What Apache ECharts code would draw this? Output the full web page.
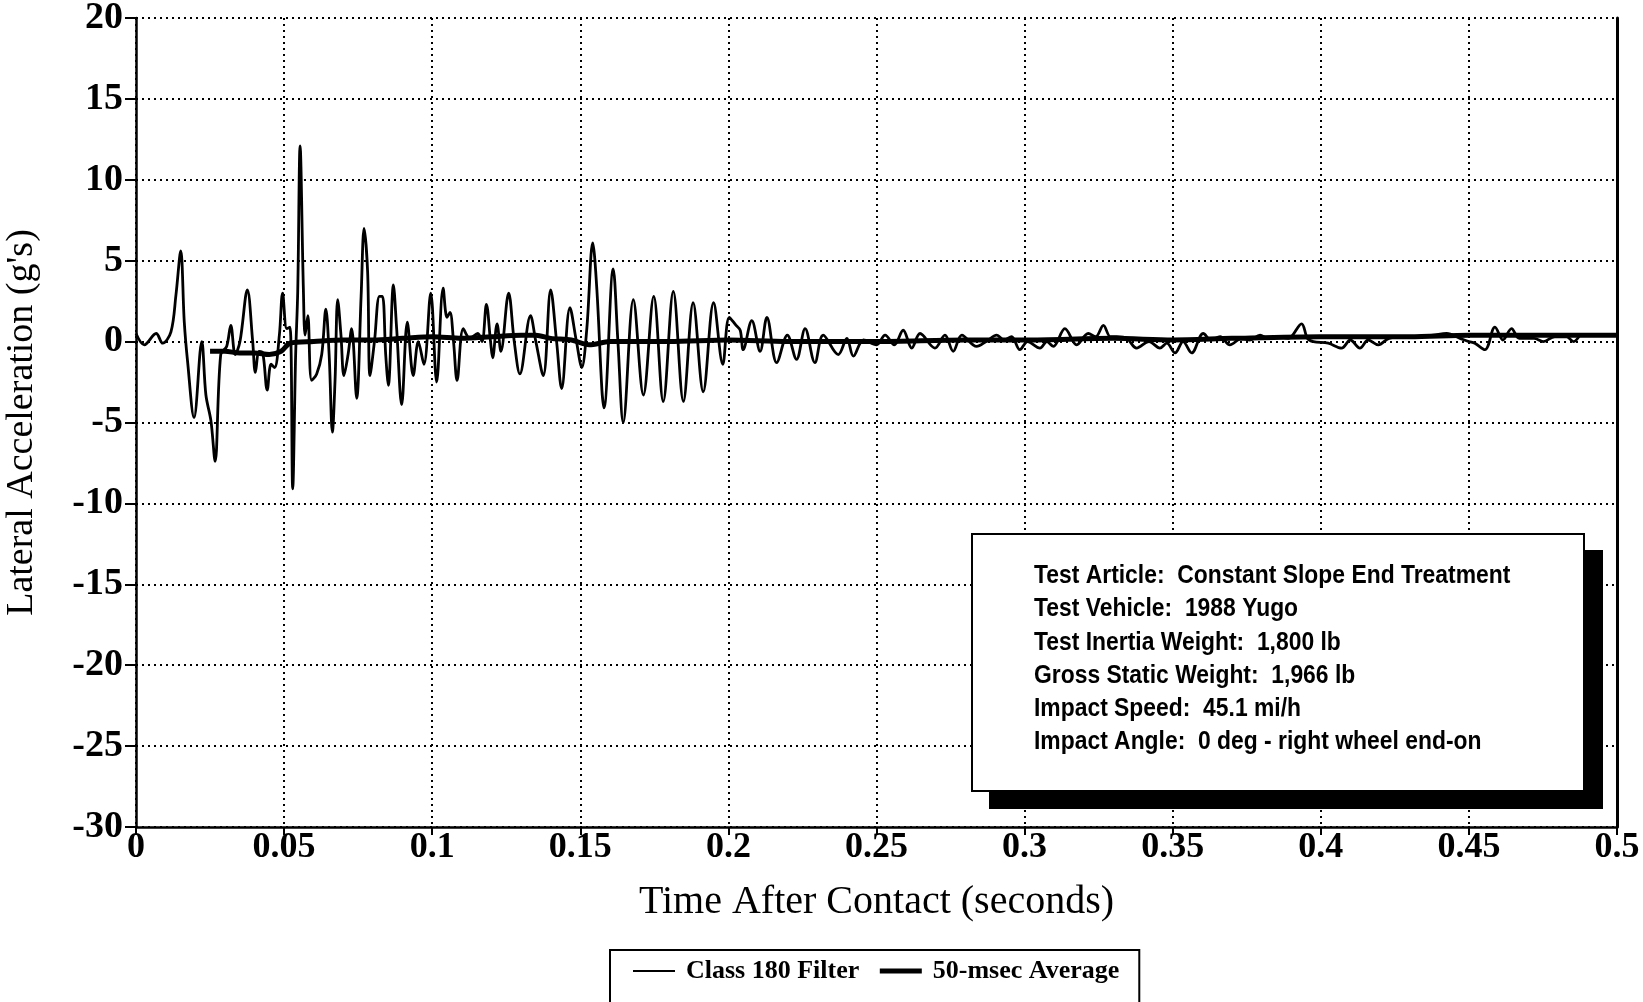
<!DOCTYPE html>
<html>
<head>
<meta charset="utf-8">
<script src="https://cdn.jsdelivr.net/npm/echarts@6/dist/echarts.min.js"></script>
<style>
  html, body { margin: 0; padding: 0; background: #fff; }
  #chart { width: 1643px; height: 1002px; }
</style>
</head>
<body>
<div id="chart"></div>
<script>
// Lateral acceleration, Class 180 filtered trace: [time (s), acceleration (g)]
const filteredSeries = [
  [0.000, 0.5], [0.0028, -0.2], [0.0068, 0.5], [0.0090, -0.1], [0.0118, 0.6],
  [0.0135, 2.9], [0.0151, 5.6], [0.0163, 1.2], [0.0174, -1.2], [0.0196, -4.7],
  [0.0222, 0.0], [0.0236, -3.3], [0.0253, -4.9], [0.0267, -7.4], [0.0286, -0.8],
  [0.0306, -0.3], [0.0320, 1.0], [0.0335, -0.8], [0.0351, 0.0], [0.0376, 3.2],
  [0.0394, 0.0], [0.0403, -1.9], [0.0416, -0.6], [0.0428, -0.7], [0.0443, -3.0],
  [0.0456, -1.4], [0.0468, -1.6], [0.0484, 0.4], [0.0495, 3.0], [0.0509, 0.8],
  [0.0520, 0.9], [0.0529, -9.1], [0.0539, -0.8], [0.0546, 3.1], [0.0554, 12.1],
  [0.0565, 3.3], [0.0571, 0.4], [0.0580, 1.6], [0.0593, -2.4], [0.0610, -2.0],
  [0.0627, -0.8], [0.0641, 2.0], [0.0652, -0.8], [0.0663, -5.6], [0.0672, -2.4],
  [0.0681, 2.6], [0.0692, 0.4], [0.0702, -2.1], [0.0716, -0.8], [0.0728, 0.8],
  [0.0745, -3.5], [0.0760, 2.8], [0.0770, 7.0], [0.0782, 4.3], [0.0790, -2.1],
  [0.0805, 0.0], [0.0822, 2.8], [0.0832, 2.8], [0.0843, -0.8], [0.0852, -2.7],
  [0.0869, 3.5], [0.0880, 0.8], [0.0897, -3.9], [0.0916, 1.2], [0.0936, -2.1],
  [0.0953, 0.0], [0.0972, -1.4], [0.0995, 3.0], [0.1015, -2.5], [0.1037, 3.3],
  [0.1050, 1.5], [0.1060, 1.8], [0.1072, 0.0], [0.1084, -2.4], [0.1105, 0.8],
  [0.1127, 0.2], [0.1154, 0.5], [0.1168, 0.0], [0.1183, 2.3], [0.1197, 0.0],
  [0.1204, -1.0], [0.1219, 1.1], [0.1232, -0.6], [0.1258, 3.0], [0.1277, 0.0],
  [0.1296, -2.0], [0.1332, 1.6], [0.1350, 0.0], [0.1375, -2.1], [0.1400, 3.2],
  [0.1420, 0.0], [0.1437, -2.9], [0.1465, 2.1], [0.1487, 0.0], [0.1505, -1.6],
  [0.1522, 0.8], [0.1542, 6.1], [0.1556, 3.2], [0.1573, -3.0], [0.1580, -4.1],
  [0.1611, 4.5], [0.1627, 0.0], [0.1645, -5.0], [0.1679, 2.6], [0.1713, -3.3],
  [0.1748, 2.8], [0.1780, -3.7], [0.1814, 3.1], [0.1848, -3.7], [0.1881, 2.4],
  [0.1915, -3.1], [0.1950, 2.4], [0.1981, -1.4], [0.2003, 1.5], [0.2026, 1.0],
  [0.2040, 0.7], [0.2050, -0.5], [0.2079, 1.3], [0.2107, -0.6], [0.2130, 1.5],
  [0.2163, -1.3], [0.2199, 0.4], [0.2230, -1.1], [0.2259, 0.8], [0.2292, -1.3],
  [0.2320, 0.4], [0.2371, -0.8], [0.2400, 0.2], [0.2422, -0.9], [0.2456, 0.1],
  [0.2500, -0.2], [0.2529, 0.4], [0.2560, -0.2], [0.2590, 0.7], [0.2619, -0.4],
  [0.2647, 0.5], [0.2697, -0.4], [0.2731, 0.4], [0.2759, -0.6], [0.2788, 0.4],
  [0.2838, -0.3], [0.2870, 0.0], [0.2906, 0.4], [0.2930, 0.1], [0.2956, 0.3],
  [0.2984, -0.5], [0.3010, 0.0], [0.3052, -0.4], [0.3075, 0.0], [0.3097, -0.3],
  [0.3136, 0.8], [0.3176, -0.2], [0.3215, 0.5], [0.3240, 0.3], [0.3266, 1.0],
  [0.3290, 0.3], [0.3311, 0.3], [0.3345, 0.2], [0.3378, -0.4], [0.3420, 0.0],
  [0.3457, -0.4], [0.3480, -0.1], [0.3508, -0.7], [0.3535, 0.0], [0.3564, -0.7],
  [0.3603, 0.5], [0.3630, 0.1], [0.3660, 0.3], [0.3693, -0.2], [0.3733, 0.2],
  [0.3760, 0.1], [0.3795, 0.4], [0.3820, 0.2], [0.3851, 0.3], [0.3890, 0.2],
  [0.3935, 1.1], [0.3955, 0.2], [0.3975, 0.0], [0.4025, -0.1], [0.4070, -0.4],
  [0.4100, 0.1], [0.4132, -0.4], [0.4160, 0.1], [0.4194, -0.2], [0.4230, 0.2],
  [0.4279, 0.3], [0.4320, 0.3], [0.4380, 0.4], [0.4425, 0.5], [0.4470, 0.2],
  [0.4500, 0.0], [0.4520, -0.1], [0.4554, -0.5], [0.4588, 0.9], [0.4615, 0.1],
  [0.4644, 0.8], [0.4670, 0.2], [0.4720, 0.2], [0.4751, 0.0], [0.4790, 0.3],
  [0.4830, 0.3], [0.4853, 0.0], [0.4875, 0.4]
];

// 50-msec running average: [time (s), acceleration (g)]
const averageSeries = [
  [0.025, -0.6], [0.030, -0.6], [0.035, -0.7], [0.040, -0.7], [0.045, -0.8],
  [0.049, -0.6], [0.052, -0.1], [0.060, 0.0], [0.070, 0.1], [0.080, 0.1],
  [0.090, 0.2], [0.100, 0.3], [0.110, 0.2], [0.120, 0.3], [0.130, 0.4],
  [0.135, 0.4], [0.140, 0.2], [0.147, 0.1], [0.153, -0.2], [0.160, 0.0],
  [0.180, 0.0], [0.200, 0.1], [0.220, 0.0], [0.250, 0.0], [0.280, 0.1],
  [0.300, 0.1], [0.330, 0.2], [0.350, 0.1], [0.370, 0.2], [0.400, 0.3],
  [0.430, 0.3], [0.450, 0.4], [0.470, 0.4], [0.500, 0.4]
];

const xTickLabels = ['0', '0.05', '0.1', '0.15', '0.2', '0.25', '0.3', '0.35', '0.4', '0.45', '0.5'];
const yTickLabels = ['-30', '-25', '-20', '-15', '-10', '-5', '0', '5', '10', '15', '20'];

const seriesNames = ['Class 180 Filter', '50-msec Average'];

const testInfo = [
  'Test Article:  Constant Slope End Treatment',
  'Test Vehicle:  1988 Yugo',
  'Test Inertia Weight:  1,800 lb',
  'Gross Static Weight:  1,966 lb',
  'Impact Speed:  45.1 mi/h',
  'Impact Angle:  0 deg - right wheel end-on'
];

const serif = '"Liberation Serif", "Times New Roman", serif';
const infoFont = '"Liberation Sans", Arial, sans-serif';

const chart = echarts.init(document.getElementById('chart'), null, { renderer: 'canvas' });

// panel text is set in a narrowed bold sans
const infoLines = testInfo.map((line, i) => ({
  type: 'text',
  x: 1034,
  y: 576 + i * 33.2,
  scaleX: 0.88,
  style: {
    text: line,
    fill: '#000',
    font: 'bold 26px ' + infoFont,
    textVerticalAlign: 'middle'
  },
  z: 110
}));

chart.setOption({
  backgroundColor: '#fff',
  animation: false,
  grid: { left: 136, right: 26, top: 18, bottom: 175, containLabel: false, outerBoundsMode: 'none' },
  xAxis: {
    type: 'value',
    min: 0,
    max: 0.5,
    interval: 0.05,
    name: 'Time After Contact (seconds)',
    nameLocation: 'middle',
    nameGap: 55,
    nameTextStyle: { fontFamily: serif, fontSize: 40, color: '#000' },
    axisLine: { onZero: false, lineStyle: { color: '#000', width: 2.5 } },
    axisTick: { show: true, length: 8, lineStyle: { color: '#000', width: 2 } },
    axisLabel: {
      margin: 3,
      fontFamily: serif,
      fontWeight: 'bold',
      fontSize: 36,
      color: '#000',
      formatter: v => xTickLabels[Math.round(v / 0.05)]
    },
    splitLine: { show: true, lineStyle: { color: '#000', width: 2, type: [2, 4] } }
  },
  yAxis: [{
    type: 'value',
    min: -30,
    max: 20,
    interval: 5,
    name: "Lateral Acceleration (g's)",
    nameLocation: 'middle',
    nameGap: 95,
    nameTextStyle: { fontFamily: serif, fontSize: 38, color: '#000' },
    axisLine: { lineStyle: { color: '#000', width: 2.5 } },
    axisTick: { show: true, length: 11, lineStyle: { color: '#000', width: 2 } },
    axisLabel: {
      margin: 13,
      fontFamily: serif,
      fontWeight: 'bold',
      fontSize: 38,
      color: '#000',
      formatter: v => yTickLabels[Math.round((v + 30) / 5)]
    },
    splitLine: { show: true, lineStyle: { color: '#000', width: 2, type: [2, 4] } }
  }, {
    type: 'value',
    position: 'right',
    min: -30,
    max: 20,
    interval: 5,
    axisLine: { show: true, lineStyle: { color: '#000', width: 3 } },
    axisTick: { show: false },
    axisLabel: { show: false },
    splitLine: { show: false }
  }],
  legend: {
    left: 610,
    top: 950,
    itemGap: 18,
    itemWidth: 42,
    itemHeight: 2,
    padding: [8, 20, 40, 22],
    borderColor: '#000',
    borderWidth: 2,
    backgroundColor: '#fff',
    itemStyle: { opacity: 0 },
    textStyle: { fontFamily: serif, fontWeight: 'bold', fontSize: 26, color: '#000', padding: [0, 0, 0, 6] },
    data: [
      { name: seriesNames[0], lineStyle: { width: 2 } },
      { name: seriesNames[1], lineStyle: { width: 5 } }
    ]
  },
  series: [{
    name: seriesNames[0],
    type: 'line',
    data: filteredSeries,
    symbol: 'none',
    smooth: 0.35,
    lineStyle: { color: '#000', width: 2.8 },
    itemStyle: { color: '#000' },
    z: 3
  }, {
    name: seriesNames[1],
    type: 'line',
    data: averageSeries,
    symbol: 'none',
    smooth: 0.3,
    lineStyle: { color: '#000', width: 5 },
    itemStyle: { color: '#000' },
    z: 4
  }],
  graphic: [
    // drop shadow behind the test-information panel
    { type: 'rect', shape: { x: 989, y: 550, width: 614, height: 259 }, style: { fill: '#000' }, z: 100 },
    { type: 'rect', shape: { x: 972, y: 534, width: 612, height: 257 }, style: { fill: '#fff', stroke: '#000', lineWidth: 2 }, z: 101 },
    ...infoLines
  ]
});
</script>
</body>
</html>
